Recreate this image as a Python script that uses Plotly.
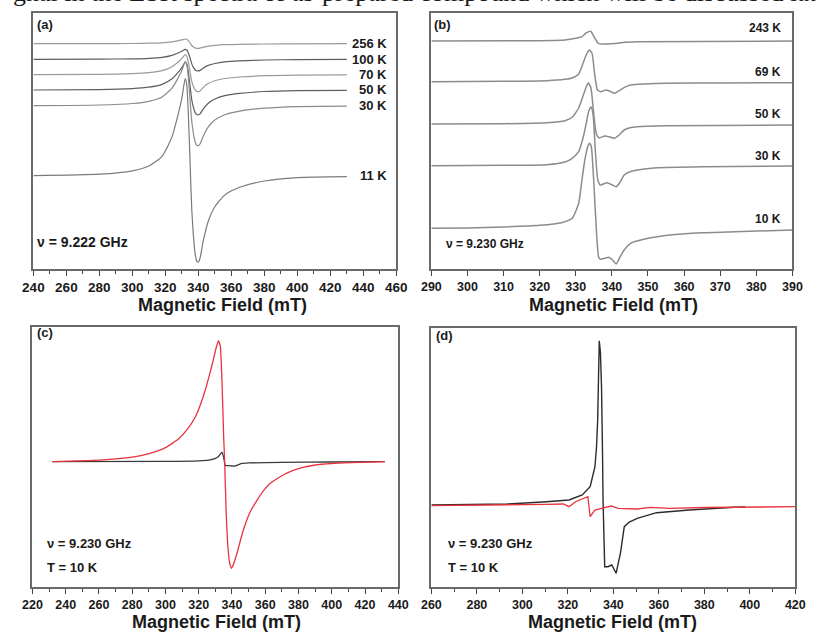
import plotly.graph_objects as go

W, H = 818, 634

# ---------------- panel (a): temperature series, nu = 9.222 GHz ----------------
field_a = [240, 280, 300, 310, 318, 324, 328, 330, 332, 333, 334, 335, 336, 337,
           338, 339, 340, 341, 343, 346, 350, 356, 365, 380, 400, 430]
temps_a = ["256 K", "100 K", "70 K", "50 K", "30 K", "11 K"]
offsets_a = [225.3, 209.7, 194.3, 179.0, 163.3, 93.3]
signal_a = [
    [0, 0.1, 0.2, 0.5, 0.9, 1.9, 3.1, 3.8, 4.7, 4.4, 2.8, 0.6, -1.8, -3.2,
     -4.2, -4.6, -4.6, -4.4, -3.5, -2.4, -1.7, -1.0, -0.6, -0.3, -0.1, 0],
    [0, 0.15, 0.5, 1, 2, 4, 6.5, 8, 10, 9.3, 6, 1.2, -4.6, -8.1,
     -10.4, -11.4, -11.6, -11.1, -8.7, -6.1, -4.2, -2.6, -1.6, -0.7, -0.3, -0.1],
    [0, 0.3, 1, 2, 4, 8, 13, 16, 20, 18.6, 12, 2.4, -6.7, -11.8,
     -15.2, -16.7, -16.9, -16.2, -12.7, -8.9, -6.1, -3.8, -2.3, -1.0, -0.4, -0.2],
    [0, 0.4, 1.4, 2.8, 5.6, 11.2, 18.2, 22.4, 28, 26, 16.8, 3.4, -9.8, -17.4,
     -22.4, -24.6, -24.9, -23.8, -18.8, -13.2, -9.0, -5.6, -3.4, -1.5, -0.6, -0.3],
    [0, 0.7, 2.2, 4.4, 8.8, 17.6, 28.6, 35.2, 44, 40.9, 26.4, 5.3, -15.8, -27.9,
     -36, -39.6, -40, -38.3, -30.2, -21.2, -14.4, -9.0, -5.4, -2.5, -0.9, -0.5],
    [0, 1.5, 4.9, 9.7, 19.4, 38.8, 63.1, 77.6, 97, 90.2, 58.2, 11.6, -34, -60.1,
     -77.6, -85.4, -86.3, -82.5, -65, -45.6, -31, -19.4, -11.6, -5.3, -1.9, -1.0],
]
colors_a = ["#9a9a9a", "#5e5e5e", "#9a9a9a", "#5e5e5e", "#8a8a8a", "#7a7a7a"]

# ---------------- panel (b): temperature series, nu = 9.230 GHz ----------------
temps_b = ["243 K", "69 K", "50 K", "30 K", "10 K"]
label_y_b = [240.7, 196.7, 154.7, 113.3, 50.0]
field_b = [
    [290, 320, 327, 330, 331.7, 333, 334.1, 335.3, 336.2, 338, 341.6, 343.4, 347, 390],
    [290, 310, 322, 327, 329, 330.8, 332, 333, 333.8, 334.5, 335.2, 336, 337, 338.3,
     339.5, 340.7, 342, 343.5, 345.2, 349, 355, 370, 390],
    [290, 310, 322, 327, 329, 330.8, 332, 333, 333.5, 334.2, 335, 335.7, 336.5, 338,
     339.5, 340.7, 342, 343.4, 345, 347, 355, 390],
    [290, 310, 322, 327, 329, 330.8, 332, 332.8, 333.6, 334.25, 334.8, 335.4, 336.1,
     336.8, 338.6, 340, 341.2, 342.3, 343.4, 345, 347, 352.4, 365, 390],
    [290, 300, 310, 320, 326, 329, 330.8, 331.7, 332.5, 333.3, 333.8, 334.3, 335,
     335.7, 336.3, 336.8, 338, 339.1, 340.2, 341.2, 342.3, 343.4, 345.2, 348.8, 356,
     365, 374, 390],
]
signal_b = [
    [228, 228.3, 229, 230.7, 232.3, 236.3, 237.7, 230.7, 225.7, 225, 225.7, 226.7, 227.3, 228],
    [187.3, 187.7, 188.3, 189.7, 191, 195, 205.7, 215, 219, 215.7, 195.7, 179, 177.3, 179,
     177.7, 175.7, 178.3, 181.7, 184, 185, 185.7, 186, 186.3],
    [145, 145.3, 146.3, 148.3, 151.7, 161, 173, 183, 186.3, 181, 154, 135, 131, 133,
     132, 130.7, 134, 139, 141.3, 142.3, 143.3, 144],
    [103.3, 103.7, 104.3, 107, 110.7, 117.3, 131, 144, 158, 162, 154, 119, 89,
     84, 86.3, 84.3, 82.3, 87, 94, 97.3, 99, 101.3, 102.3, 103],
    [40.7, 41, 42, 43.7, 46.3, 50.7, 65.7, 89, 109, 122.3, 125.7, 122.3, 86,
     39, 12.3, 9.7, 10.7, 11.7, 9, 5, 12.3, 19, 25.7, 29.7, 34,
     36.3, 37.3, 39],
]

# ---------------- panel (c): two samples at 10 K ----------------
baseline_c = 125.3
field_c_red = [232, 260, 280, 290, 300, 308, 313, 318, 321, 324, 326.5, 328.5, 330.5,
               331.9, 333, 334, 335, 335.6, 336.5, 337.6, 338.7, 339.7, 341, 343.6,
               345.5, 347.5, 351, 355.3, 359, 363, 369, 375, 382, 390, 400, 412, 432]
signal_c_red = [0, 1.5, 4.5, 8, 14, 23, 32, 45, 57, 72, 87, 100, 114,
                121, 115, 80, 25, 0, -50, -86, -102, -106.6, -102, -88,
                -76, -65, -50, -38, -29, -21.6, -15, -10, -6, -3.3, -1.8, -1, 0]
field_c_black = [232, 300, 320, 326, 330, 332, 333.5, 334.1, 335, 336, 338, 340, 342,
                 344, 346, 350, 370, 400, 432]
signal_c_black = [0, 0.3, 0.8, 1.5, 3.3, 5.5, 8.5, 9.4, 4, -3.5, -4, -4.3, -4.3,
                  -3, -1.7, -1.2, -0.6, -0.3, 0]

# ---------------- panel (d): two samples at 10 K ----------------
field_d_black = [260, 293.5, 310.6, 316, 320.5, 326.3, 329.8, 331.9, 332.6, 333.1,
                 333.5, 333.8, 334.3, 334.8, 335.2, 335.5, 336.2, 337.6, 339.3, 341.2,
                 343.1, 344.8, 347, 350.5, 359, 373.3, 393.2, 398]
signal_d_black = [82, 83, 85.3, 86, 87, 92, 100.3, 120.3, 140, 167,
                  215, 246.3, 235, 200.3, 140, 84, 20.3, 20.3, 22, 13.7,
                  33.7, 60.3, 65, 68.7, 74.3, 77, 79.7, 80]
field_d_red = [260, 290, 310.6, 318, 320.5, 323.4, 327.7, 328.8, 329.8, 331.9, 334.8,
               339.1, 342, 350.5, 356.2, 364.7, 380, 420]
signal_d_red = [81.3, 81.7, 82.7, 83, 80.3, 85.3, 88.7, 90.3, 70.3, 77, 78.7,
                81, 78.7, 78, 79.7, 78.7, 79.5, 80.3]

RED = "#e8333d"
BLACK = "#2b2b2b"
FONT = "Liberation Sans, Arial, sans-serif"


def px(x):
    return x / W


def py(y):
    return 1 - y / H


fig = go.Figure()

for name, off, sig, col in zip(temps_a, offsets_a, signal_a, colors_a):
    fig.add_trace(go.Scatter(x=field_a, y=[off + v for v in sig], mode="lines",
                             line=dict(color=col, width=1.2, shape="spline", smoothing=0.6),
                             name=name, xaxis="x", yaxis="y", hoverinfo="skip"))

for name, xs, ys in zip(temps_b, field_b, signal_b):
    fig.add_trace(go.Scatter(x=xs, y=ys, mode="lines",
                             line=dict(color="#8c8c8c", width=1.5, shape="spline", smoothing=0.5),
                             name=name, xaxis="x2", yaxis="y2", hoverinfo="skip"))

fig.add_trace(go.Scatter(x=field_c_black, y=[baseline_c + v for v in signal_c_black],
                         mode="lines", line=dict(color="#3a3a3a", width=1.3, shape="spline", smoothing=0.5),
                         xaxis="x3", yaxis="y3", hoverinfo="skip"))
fig.add_trace(go.Scatter(x=field_c_red, y=[baseline_c + v for v in signal_c_red],
                         mode="lines", line=dict(color=RED, width=1.3, shape="spline", smoothing=0.5),
                         xaxis="x3", yaxis="y3", hoverinfo="skip"))

fig.add_trace(go.Scatter(x=field_d_black, y=signal_d_black, mode="lines",
                         line=dict(color=BLACK, width=1.4),
                         xaxis="x4", yaxis="y4", hoverinfo="skip"))
fig.add_trace(go.Scatter(x=field_d_red, y=signal_d_red, mode="lines",
                         line=dict(color=RED, width=1.3),
                         xaxis="x4", yaxis="y4", hoverinfo="skip"))

frame = dict(showline=True, mirror=True, linecolor="#6a6a6a", linewidth=1.5,
             showgrid=False, zeroline=False)


def xax(rng, dtick, dom, yname, size, minor=None):
    d = dict(range=rng, dtick=dtick, domain=dom, anchor=yname, ticks="outside",
             ticklen=5, tickwidth=1.2, tickcolor="#444",
             tickfont=dict(family=FONT, size=size, color="#1a1a1a", weight="bold"),
             **frame)
    if minor:
        d["minor"] = dict(dtick=minor, ticks="outside", ticklen=3, tickcolor="#444", tickwidth=1)
    return d


def yax(rng, dom, xname):
    return dict(range=rng, domain=dom, anchor=xname, showticklabels=False, ticks="", **frame)


fig.update_layout(
    width=W, height=H, margin=dict(l=0, r=0, t=0, b=0),
    paper_bgcolor="white", plot_bgcolor="white", showlegend=False,
    xaxis=xax([240, 460], 20, [px(23), px(396)], "y", 13.5, minor=10),
    yaxis=yax([0, 256], [py(269), py(13)], "x"),
    xaxis2=xax([290, 390], 10, [px(432), px(803)], "y2", 12.5),
    yaxis2=yax([0, 256], [py(269), py(13)], "x2"),
    xaxis3=xax([220, 440], 20, [px(22), px(398)], "y3", 12.5, minor=10),
    yaxis3=yax([0, 260], [py(587), py(327)], "x3"),
    xaxis4=xax([260, 420], 20, [px(432), px(806)], "y4", 12.5, minor=10),
    yaxis4=yax([0, 259], [py(587), py(328)], "x4"),
)

ann = []


def text(x, y, s, size=13, anchor="left", xref="paper", yref="paper", family=FONT, bold=True):
    ann.append(dict(x=x, y=y, xref=xref, yref=yref, text=s, showarrow=False,
                    xanchor=anchor, yanchor="middle",
                    font=dict(family=family, size=size, color="#1a1a1a",
                              weight="bold" if bold else "normal")))


# temperature labels
for name, off in zip(temps_a, offsets_a):
    text(455.5, off, name, size=13, anchor="right", xref="x", yref="y")
for name, yy in zip(temps_b, label_y_b):
    text(387.5, yy, name, size=12, anchor="right", xref="x2", yref="y2")

# panel tags and conditions
text(px(25), py(25), "(a)", 13)
text(px(433), py(25), "(b)", 13)
text(px(25), py(333), "(c)", 13)
text(px(435), py(335), "(d)", 13)
text(px(25), py(242), "ν = 9.222 GHz", 14)
text(px(445), py(244), "ν = 9.230 GHz", 12)
text(px(35), py(543), "ν = 9.230 GHz", 13)
text(px(35), py(567), "T = 10 K", 13)
text(px(447), py(543), "ν = 9.230 GHz", 13)
text(px(447), py(567), "T = 10 K", 13)

# axis titles
for cx, cy in [(217, 305), (619, 305), (211, 622), (618, 622)]:
    text(px(cx), py(cy), "Magnetic Field (mT)", 18, anchor="center")

# running text of the page above the figure
text(0, py(-8), "gnal in the ESR spectra of as-prepared compound which will be discussed lat",
     26, family="Liberation Serif, Times New Roman, serif", bold=False)

fig.update_layout(annotations=ann)
fig.write_html("out.html")
